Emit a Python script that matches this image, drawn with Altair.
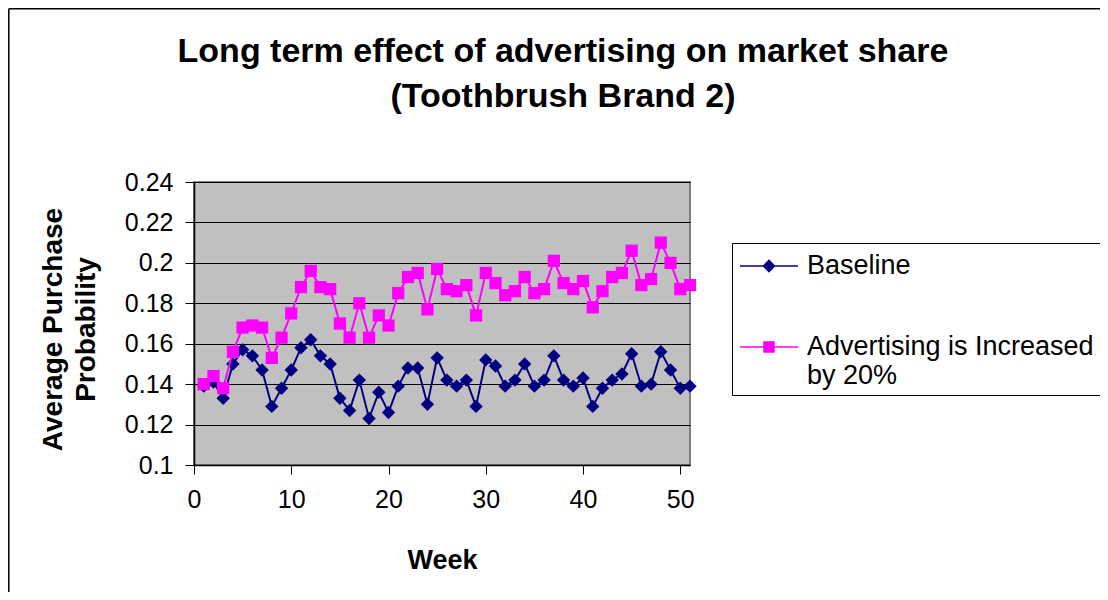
import altair as alt
import pandas as pd

# ---------------- data ----------------
weeks = list(range(1, 52))
baseline = [0.139, 0.141, 0.133, 0.150, 0.157, 0.154, 0.147, 0.129, 0.138, 0.147,
            0.158, 0.162, 0.154, 0.150, 0.133, 0.127, 0.142, 0.123, 0.136, 0.126,
            0.139, 0.148, 0.148, 0.130, 0.153, 0.142, 0.139, 0.142, 0.129, 0.152,
            0.149, 0.139, 0.142, 0.150, 0.139, 0.142, 0.154, 0.142, 0.139, 0.143,
            0.129, 0.138, 0.142, 0.145, 0.155, 0.139, 0.140, 0.156, 0.147, 0.138, 0.139]
advert = [0.140, 0.144, 0.138, 0.156, 0.168, 0.169, 0.168, 0.153, 0.163, 0.175,
          0.188, 0.196, 0.188, 0.187, 0.170, 0.163, 0.180, 0.163, 0.174, 0.169,
          0.185, 0.193, 0.195, 0.177, 0.197, 0.187, 0.186, 0.189, 0.174, 0.195,
          0.190, 0.184, 0.186, 0.193, 0.185, 0.187, 0.201, 0.190, 0.187, 0.191,
          0.178, 0.186, 0.193, 0.195, 0.206, 0.189, 0.192, 0.210, 0.200, 0.187, 0.189]
series_names = ["Baseline", "Advertising is Increased by 20%"]
series_colors = ["#000080", "#FF00FF"]
# legend samples: a line with the series marker on it
legend_paths = ["M-1.8125,0H1.8125M-0.344,0L0,-0.36L0.344,0L0,0.36Z",
                "M-1.8125,0H1.8125M-0.3125,-0.3125H0.3125V0.3125H-0.3125Z"]
x_ticks = [0, 10, 20, 30, 40, 50]
y_ticks = [0.1, 0.12, 0.14, 0.16, 0.18, 0.2, 0.22, 0.24]
title_lines = ["Long term effect of advertising on market share", "(Toothbrush Brand 2)"]
y_title = ["Average Purchase", "Probability"]
x_title = "Week"

df = pd.DataFrame({
    "week": weeks + weeks,
    "value": baseline + advert,
    "series": [series_names[0]] * len(weeks) + [series_names[1]] * len(weeks),
})

FONT = "Liberation Sans"
W, H = 496, 283
PAD = {"left": 186, "top": 174, "right": 410, "bottom": 127}

x_enc = alt.X("week:Q",
              scale=alt.Scale(domain=[0, 51], nice=False, zero=False),
              axis=alt.Axis(values=x_ticks, title=x_title, grid=False,
                            domainColor="black", domainWidth=1.5,
                            tickColor="black", tickSize=9, tickWidth=1,
                            labelFont=FONT, labelFontSize=25, labelColor="black",
                            labelPadding=13, labelFlush=False, labelOverlap=False,
                            titleFont=FONT, titleFontSize=27, titleFontWeight="bold",
                            titleColor="black", titleY=95, titleBaseline="middle"))
y_enc = alt.Y("value:Q",
              scale=alt.Scale(domain=[0.1, 0.24], nice=False, zero=False),
              axis=alt.Axis(values=y_ticks, format=".2~f", title=y_title,
                            grid=True, gridColor="black", gridWidth=1,
                            domainColor="black", domainWidth=1.5,
                            tickColor="black", tickSize=9, tickWidth=1,
                            labelFont=FONT, labelFontSize=25, labelColor="black",
                            labelPadding=12, labelFlush=False, labelOverlap=False,
                            titleFont=FONT, titleFontSize=28, titleFontWeight="bold",
                            titleColor="black", titleLineHeight=33, titleAngle=270,
                            titleX=-141, titleY=147, titleAlign="center",
                            titleBaseline="middle"))

base = alt.Chart(df)

layers = []
# outer frame (left and top edges visible in the reference)
frame_df = pd.DataFrame({"k": [0]})
layers.append(alt.Chart(frame_df).mark_rule(color="black", strokeWidth=1.5).encode(
    x=alt.value(-185.2), y=alt.value(-173.2), y2=alt.value(H + PAD["bottom"])))
layers.append(alt.Chart(frame_df).mark_rule(color="black", strokeWidth=1.5).encode(
    x=alt.value(-185.2), x2=alt.value(W + PAD["right"]), y=alt.value(-173.2)))

shapes = ["diamond", "square"]
sizes = [180, 150]
for name, color, shape, size in zip(series_names, series_colors, shapes, sizes):
    sub = base.transform_filter(alt.datum.series == name)
    layers.append(sub.mark_line(color=color, strokeWidth=2).encode(x=x_enc, y=y_enc))
    layers.append(sub.mark_point(shape=shape, filled=True, color=color, size=size,
                                 opacity=1).encode(x=x_enc, y=y_enc))

legend = alt.Legend(
    title=None, orient="none", legendX=538, legendY=61,
    strokeColor="black", fillColor="white", padding=6,
    symbolSize=1024, symbolStrokeWidth=1.5, symbolOpacity=1, symbolOffset=14,
    labelFont=FONT, labelFontSize=27, labelColor="black", labelLimit=600,
    labelOffset=21, rowPadding=51,
    labelExpr="datum.label == 'Advertising is Increased by 20%' ? ['Advertising is Increased', 'by 20%'] : datum.label",
)
legend_layer = base.mark_point(opacity=0).encode(
    x=x_enc, y=y_enc,
    fill=alt.Fill("series:N", scale=alt.Scale(domain=series_names, range=series_colors), legend=legend),
    stroke=alt.Stroke("series:N", scale=alt.Scale(domain=series_names, range=series_colors), legend=legend),
    shape=alt.Shape("series:N", scale=alt.Scale(domain=series_names, range=legend_paths), legend=legend),
)
layers.append(legend_layer)

chart = alt.layer(*layers).properties(
    width=W, height=H,
    autosize=alt.AutoSizeParams(type="none"),
    padding=PAD,
    background="white",
    title=alt.Title(text=title_lines, font=FONT, fontSize=34, fontWeight="bold",
                    color="black", lineHeight=45, anchor="middle", frame="group",
                    dx=121, offset=0, dy=106),
).configure_view(
    fill="#C0C0C0", stroke="#808080", strokeWidth=2
)

chart.save("out.html", embed_options={"renderer": "svg", "actions": False})
